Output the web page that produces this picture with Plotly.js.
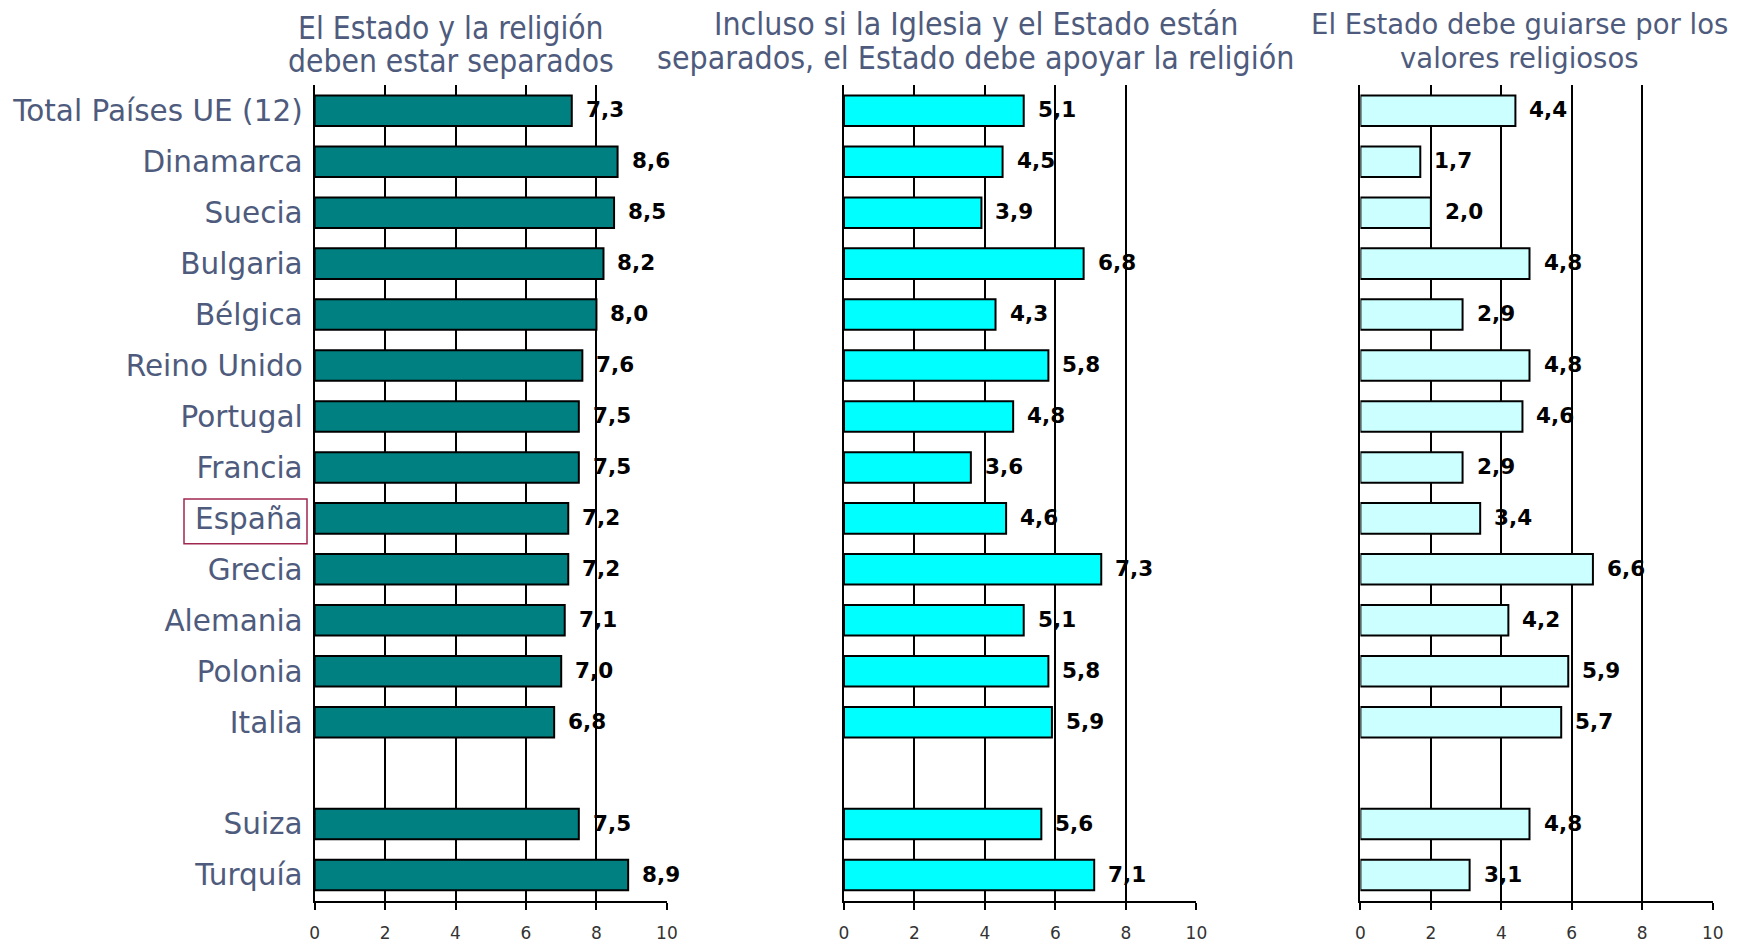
<!DOCTYPE html>
<html>
<head>
<meta charset="utf-8">
<script src="https://cdn.plot.ly/plotly-3.0.1.min.js"></script>
<style>
  html, body { margin: 0; padding: 0; background: #ffffff; }
  #chart { width: 1737px; height: 944px; }
</style>
</head>
<body>
<div id="chart"></div>
<script>
// ---- Data ----
const categories = [
  "Total Países UE (12)", "Dinamarca", "Suecia", "Bulgaria", "Bélgica",
  "Reino Unido", "Portugal", "Francia", "España", "Grecia", "Alemania",
  "Polonia", "Italia", " ", "Suiza", "Turquía"
];
const separados = [7.3, 8.6, 8.5, 8.2, 8.0, 7.6, 7.5, 7.5, 7.2, 7.2, 7.1, 7.0, 6.8, null, 7.5, 8.9];
const apoyar    = [5.1, 4.5, 3.9, 6.8, 4.3, 5.8, 4.8, 3.6, 4.6, 7.3, 5.1, 5.8, 5.9, null, 5.6, 7.1];
const guiarse   = [4.4, 1.7, 2.0, 4.8, 2.9, 4.8, 4.6, 2.9, 3.4, 6.6, 4.2, 5.9, 5.7, null, 4.8, 3.1];
const titles = [
  ["El Estado y la religión", "deben estar separados"],
  ["Incluso si la Iglesia y el Estado están", "separados, el Estado debe apoyar la religión"],
  ["El Estado debe guiarse por los", "valores religiosos"]
];
const xTicks = [0, 2, 4, 6, 8, 10];
const highlighted = "España";

// ---- Styling ----
const W = 1737, H = 944;
const labelColor = "#4E5B7D";
const series = [separados, apoyar, guiarse];
const colors = ["#008080", "#00FFFF", "#CCFFFF"];
const domains = [[314.6 / W, 666.9 / W], [844 / W, 1196.4 / W], [1360.4 / W, 1712.7 / W]];
const yDomain = [1 - 900.5 / H, 1 - 85.3 / H];
const fmt = v => v.toFixed(1).replace(".", ",");

const traces = [];
const annotations = [];
const layout = {
  width: W, height: H,
  margin: {l: 0, r: 0, t: 0, b: 0},
  paper_bgcolor: "#ffffff", plot_bgcolor: "rgba(0,0,0,0)",
  showlegend: false,
  bargap: 0.4,
  annotations: annotations,
  shapes: []
};

series.forEach((vals, i) => {
  const xa = i === 0 ? "x" : "x" + (i + 1);
  const ya = i === 0 ? "y" : "y" + (i + 1);
  traces.push({
    type: "bar", orientation: "h",
    x: vals, y: categories,
    xaxis: xa, yaxis: ya,
    marker: {color: colors[i], line: {color: "#000000", width: 2}},
    hoverinfo: "skip"
  });
  layout[i === 0 ? "xaxis" : "xaxis" + (i + 1)] = {
    domain: domains[i], anchor: ya,
    range: [0, 10], tickvals: xTicks, ticktext: xTicks.map(String),
    showgrid: true, gridcolor: "#000000", gridwidth: 2,
    zeroline: false,
    showline: true, linecolor: "#000000", linewidth: 2,
    ticks: "outside", ticklen: 7, tickwidth: 2, tickcolor: "#000000",
    ticklabelstandoff: 9,
    tickfont: {family: "DejaVu Sans", size: 17, color: "#333333"},
    fixedrange: true
  };
  layout[i === 0 ? "yaxis" : "yaxis" + (i + 1)] = {
    domain: yDomain, anchor: xa,
    type: "category", categoryorder: "array", categoryarray: categories,
    range: [categories.length - 0.5, -0.5],
    showgrid: false, zeroline: false,
    showline: true, linecolor: "#000000", linewidth: 2,
    ticks: "", showticklabels: i === 0,
    ticklabelstandoff: 4,
    tickfont: {family: "DejaVu Sans", size: 29.5, color: labelColor},
    fixedrange: true
  };
  // value labels
  vals.forEach((v, k) => {
    if (v === null) return;
    annotations.push({
      xref: xa, yref: ya, x: v, y: categories[k],
      xanchor: "left", yanchor: "middle", xshift: 12, yshift: 1,
      text: fmt(v), showarrow: false,
      font: {family: "DejaVu Sans", size: 21.5, color: "#000000", weight: "bold"}
    });
  });
});

// titles
const titleX = [451 / W, 975.5 / W, 1519.5 / W];
const titleY = [[27.7, 61], [23.5, 57.6], [23.5, 57.6]];
const titleSizes = [31.5, 31.8, 27.5];
titles.forEach((lines, i) => {
  lines.forEach((t, j) => {
    annotations.push({
      xref: "paper", yref: "paper",
      x: titleX[i], y: 1 - titleY[i][j] / H,
      xanchor: "center", yanchor: "middle",
      text: t, showarrow: false,
      font: i === 2
        ? {family: "DejaVu Sans", size: titleSizes[i], color: labelColor}
        : {family: "DejaVu Sans Condensed, Liberation Sans Narrow, DejaVu Sans", size: titleSizes[i], color: labelColor}
    });
  });
});

// highlight box around España label
const hi = categories.indexOf(highlighted);
layout.shapes.push({
  type: "rect", xref: "paper", yref: "y",
  x0: 184 / W, x1: 307 / W, y0: hi - 0.38, y1: hi + 0.5,
  line: {color: "#A02850", width: 1.5}, fillcolor: "rgba(0,0,0,0)"
});

Plotly.newPlot("chart", traces, layout, {displayModeBar: false, staticPlot: true});
</script>
</body>
</html>
